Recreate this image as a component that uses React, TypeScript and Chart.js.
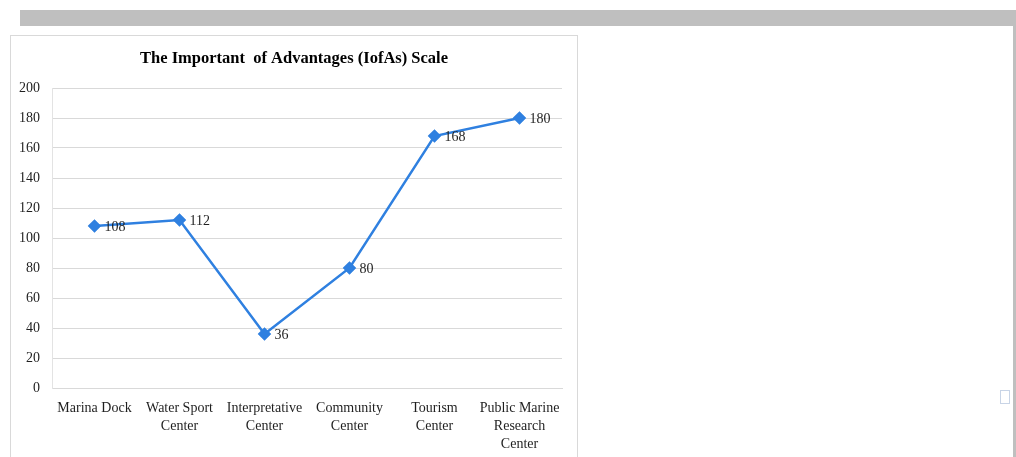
import React, { useEffect, useRef } from "react";
import { Chart, registerables } from "chart.js";

Chart.register(...registerables);

const TITLE = "The Important  of Advantages (IofAs) Scale";
const categories: (string | string[])[] = [
  "Marina Dock",
  ["Water Sport", "Center"],
  ["Interpretative", "Center"],
  ["Community", "Center"],
  ["Tourism", "Center"],
  ["Public Marine", "Research", "Center"],
];
const values = [108, 112, 36, 80, 168, 180];
const yMin = 0;
const yMax = 200;
const yStep = 20;

const FONT = "'Liberation Serif', 'Times New Roman', serif";
const BLUE = "#2f80e0";

const dataLabelPlugin = {
  id: "dataLabels",
  afterDatasetsDraw(chart: any) {
    const ctx = chart.ctx;
    const meta = chart.getDatasetMeta(0);
    ctx.save();
    ctx.font = `14px ${FONT}`;
    ctx.fillStyle = "#1f1f1f";
    ctx.textAlign = "left";
    ctx.textBaseline = "middle";
    meta.data.forEach((pt: any, i: number) => {
      ctx.fillText(String(values[i]), pt.x + 10, pt.y + 1);
    });
    ctx.restore();
  },
};

export default function App() {
  const ref = useRef<HTMLCanvasElement>(null);
  useEffect(() => {
    if (!ref.current) return;
    const chart = new Chart(ref.current, {
      type: "line",
      data: {
        labels: categories as any,
        datasets: [
          {
            data: values,
            borderColor: BLUE,
            backgroundColor: BLUE,
            borderWidth: 2.5,
            pointStyle: "rectRot",
            pointRadius: 5,
            pointBackgroundColor: BLUE,
            pointBorderColor: BLUE,
            tension: 0,
          },
        ],
      },
      options: {
        responsive: false,
        animation: false,
        layout: { padding: { left: 0, right: 0, top: 0, bottom: 0 } },
        plugins: {
          legend: { display: false },
          tooltip: { enabled: false },
          title: {
            display: true,
            text: TITLE,
            color: "#000000",
            font: { family: FONT, size: 16.5, weight: "bold", lineHeight: 1.2 },
            padding: { top: 13, bottom: 19.2 },
          },
        },
        scales: {
          x: {
            offset: true,
            grid: { display: false, drawTicks: false },
            border: { display: true, color: "#d9d9d9", width: 1 },
            ticks: {
              color: "#1f1f1f",
              font: { family: FONT, size: 14, lineHeight: 1.3 },
              padding: 11,
              maxRotation: 0,
              autoSkip: false,
            },
            afterFit(scale: any) {
              scale.height = 69;
            },
          },
          y: {
            min: yMin,
            max: yMax,
            grid: { color: "#d9d9d9", lineWidth: 1, drawTicks: false },
            border: { display: true, color: "#e3e3e3", width: 1 },
            ticks: {
              stepSize: yStep,
              color: "#1f1f1f",
              font: { family: FONT, size: 14 },
              padding: 12,
            },
            afterFit(scale: any) {
              scale.width = 41;
            },
          },
          yRight: {
            position: "right",
            min: yMin,
            max: yMax,
            grid: { display: false, drawTicks: false },
            border: { display: false },
            ticks: { display: false },
            afterFit(scale: any) {
              scale.width = 15;
            },
          },
        },
      },
      plugins: [dataLabelPlugin],
    });
    return () => chart.destroy();
  }, []);

  return (
    <div
      style={{
        position: "absolute",
        left: 0,
        top: 0,
        width: 1016,
        height: 457,
        overflow: "hidden",
        background: "#ffffff",
      }}
    >
      <div
        style={{
          position: "absolute",
          left: 20,
          top: 10,
          width: 996,
          height: 16,
          background: "#bfbfbf",
        }}
      />
      <div
        style={{
          position: "absolute",
          left: 1013,
          top: 26,
          width: 3,
          height: 431,
          background: "#bfbfbf",
        }}
      />
      <div
        style={{
          position: "absolute",
          left: 1000,
          top: 390,
          width: 10,
          height: 14,
          border: "1px solid #c8d4e6",
          boxSizing: "border-box",
        }}
      />
      <div
        style={{
          position: "absolute",
          left: 10,
          top: 35,
          width: 568,
          height: 440,
          border: "1px solid #d9d9d9",
          boxSizing: "border-box",
        }}
      >
        <canvas ref={ref} width={566} height={421} style={{ display: "block" }} />
      </div>
    </div>
  );
}
